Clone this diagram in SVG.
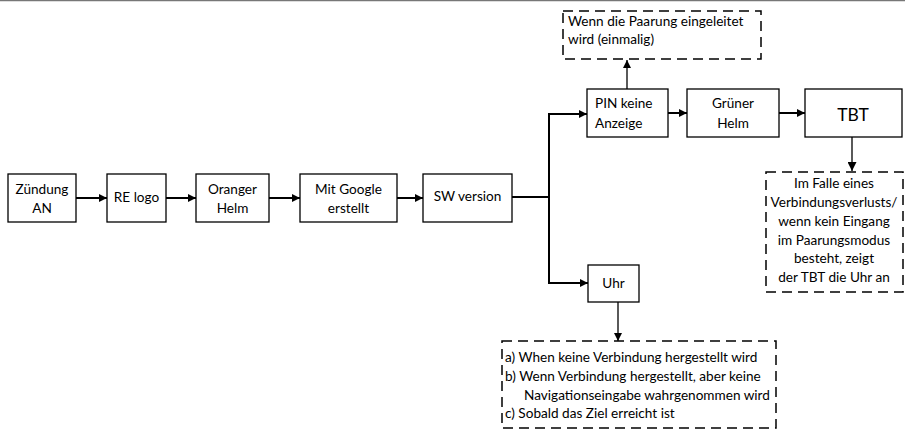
<svg xmlns="http://www.w3.org/2000/svg" width="905" height="432" viewBox="0 0 905 432">
<style>
.box{fill:#fff;stroke:#000;stroke-width:1.3}
.note{fill:#fff;stroke:#000;stroke-width:1.5;stroke-dasharray:10 6}
text{font-family:Lato,"Liberation Sans",sans-serif;font-size:13.6px;fill:#000}
.c{text-anchor:middle}
.ln{fill:none;stroke:#000;stroke-width:2}
.thin{fill:none;stroke:#000;stroke-width:1.3}
</style>
<defs>
<marker id="ah" viewBox="0 0 10 10" refX="10" refY="5" markerWidth="8" markerHeight="8" markerUnits="userSpaceOnUse" orient="auto"><path d="M0,0 L10,5 L0,10 z" fill="#000"/></marker>
<marker id="ah2" viewBox="0 0 10 10" refX="10" refY="5" markerWidth="9" markerHeight="9" markerUnits="userSpaceOnUse" orient="auto"><path d="M0,0 L10,5 L0,10 z" fill="#000"/></marker>
</defs>
<rect x="0" y="0" width="905" height="432" fill="#fff"/>
<line x1="0" y1="0.5" x2="905" y2="0.5" stroke="#777" stroke-width="1.5"/>
<g id="connectors">
<line class="ln" x1="76" y1="198" x2="107" y2="198" marker-end="url(#ah)"/>
<line class="ln" x1="166" y1="198" x2="196" y2="198" marker-end="url(#ah)"/>
<line class="ln" x1="269" y1="198" x2="300" y2="198" marker-end="url(#ah)"/>
<line class="ln" x1="397" y1="198" x2="423" y2="198" marker-end="url(#ah)"/>
<line class="ln" x1="512" y1="197" x2="549" y2="197"/>
<polyline class="ln" points="549,114 549,283 588,283" marker-end="url(#ah)"/>
<line class="ln" x1="548" y1="114" x2="587" y2="114" marker-end="url(#ah)"/>
<line class="ln" x1="668" y1="113" x2="687" y2="113" marker-end="url(#ah)"/>
<line class="ln" x1="779" y1="113" x2="805" y2="113" marker-end="url(#ah)"/>
<line class="thin" x1="627" y1="89" x2="627" y2="60" marker-end="url(#ah)"/>
<line class="thin" x1="852" y1="137" x2="852" y2="171" stroke="#404040" marker-end="url(#ah2)"/>
<line class="thin" x1="618" y1="302" x2="618" y2="341" marker-end="url(#ah)"/>
</g>
<g id="n1"><rect class="box" x="8" y="174" width="68" height="48"/><text class="c" x="42" y="194">Zündung</text><text class="c" x="42" y="213">AN</text></g>
<g id="n2"><rect class="box" x="107" y="174" width="59" height="48"/><text class="c" x="136.5" y="202">RE logo</text></g>
<g id="n3"><rect class="box" x="196" y="174" width="73" height="48"/><text class="c" x="232.5" y="194">Oranger</text><text class="c" x="232.5" y="213">Helm</text></g>
<g id="n4"><rect class="box" x="300" y="174" width="97" height="48"/><text class="c" x="348.5" y="194">Mit Google</text><text class="c" x="348.5" y="213">erstellt</text></g>
<g id="n5"><rect class="box" x="423" y="174" width="89" height="48"/><text class="c" x="467.5" y="201">SW version</text></g>
<g id="n6"><rect class="box" x="587" y="89" width="81" height="48"/><text x="595" y="108">PIN keine</text><text x="595" y="128">Anzeige</text></g>
<g id="n7"><rect class="box" x="687" y="89" width="92" height="48"/><text class="c" x="733" y="108">Grüner</text><text class="c" x="733" y="128">Helm</text></g>
<g id="n8"><rect class="box" x="805" y="89" width="97" height="48"/><text class="c" x="853" y="121" style="font-size:17.5px">TBT</text></g>
<g id="n9"><rect class="box" x="588" y="265" width="51" height="37"/><text class="c" x="613.5" y="288">Uhr</text></g>
<g id="note1"><rect class="note" x="563" y="11" width="198" height="48"/><text x="568" y="26">Wenn die Paarung eingeleitet</text><text x="568" y="44">wird (einmalig)</text></g>
<g id="note2"><rect class="note" x="766" y="172" width="137" height="120"/>
<text class="c" x="834" y="188">Im Falle eines</text>
<text class="c" x="834" y="207">Verbindungsverlusts/</text>
<text class="c" x="834" y="226">wenn kein Eingang</text>
<text class="c" x="834" y="245">im Paarungsmodus</text>
<text class="c" x="834" y="263">besteht, zeigt</text>
<text class="c" x="834" y="282">der TBT die Uhr an</text></g>
<g id="note3"><rect class="note" x="502" y="341" width="274" height="87"/>
<text x="505" y="362">a) When keine Verbindung hergestellt wird</text>
<text x="505" y="381">b) Wenn Verbindung hergestellt, aber keine</text>
<text x="524" y="400">Navigationseingabe wahrgenommen wird</text>
<text x="505" y="418">c) Sobald das Ziel erreicht ist</text></g>
</svg>
